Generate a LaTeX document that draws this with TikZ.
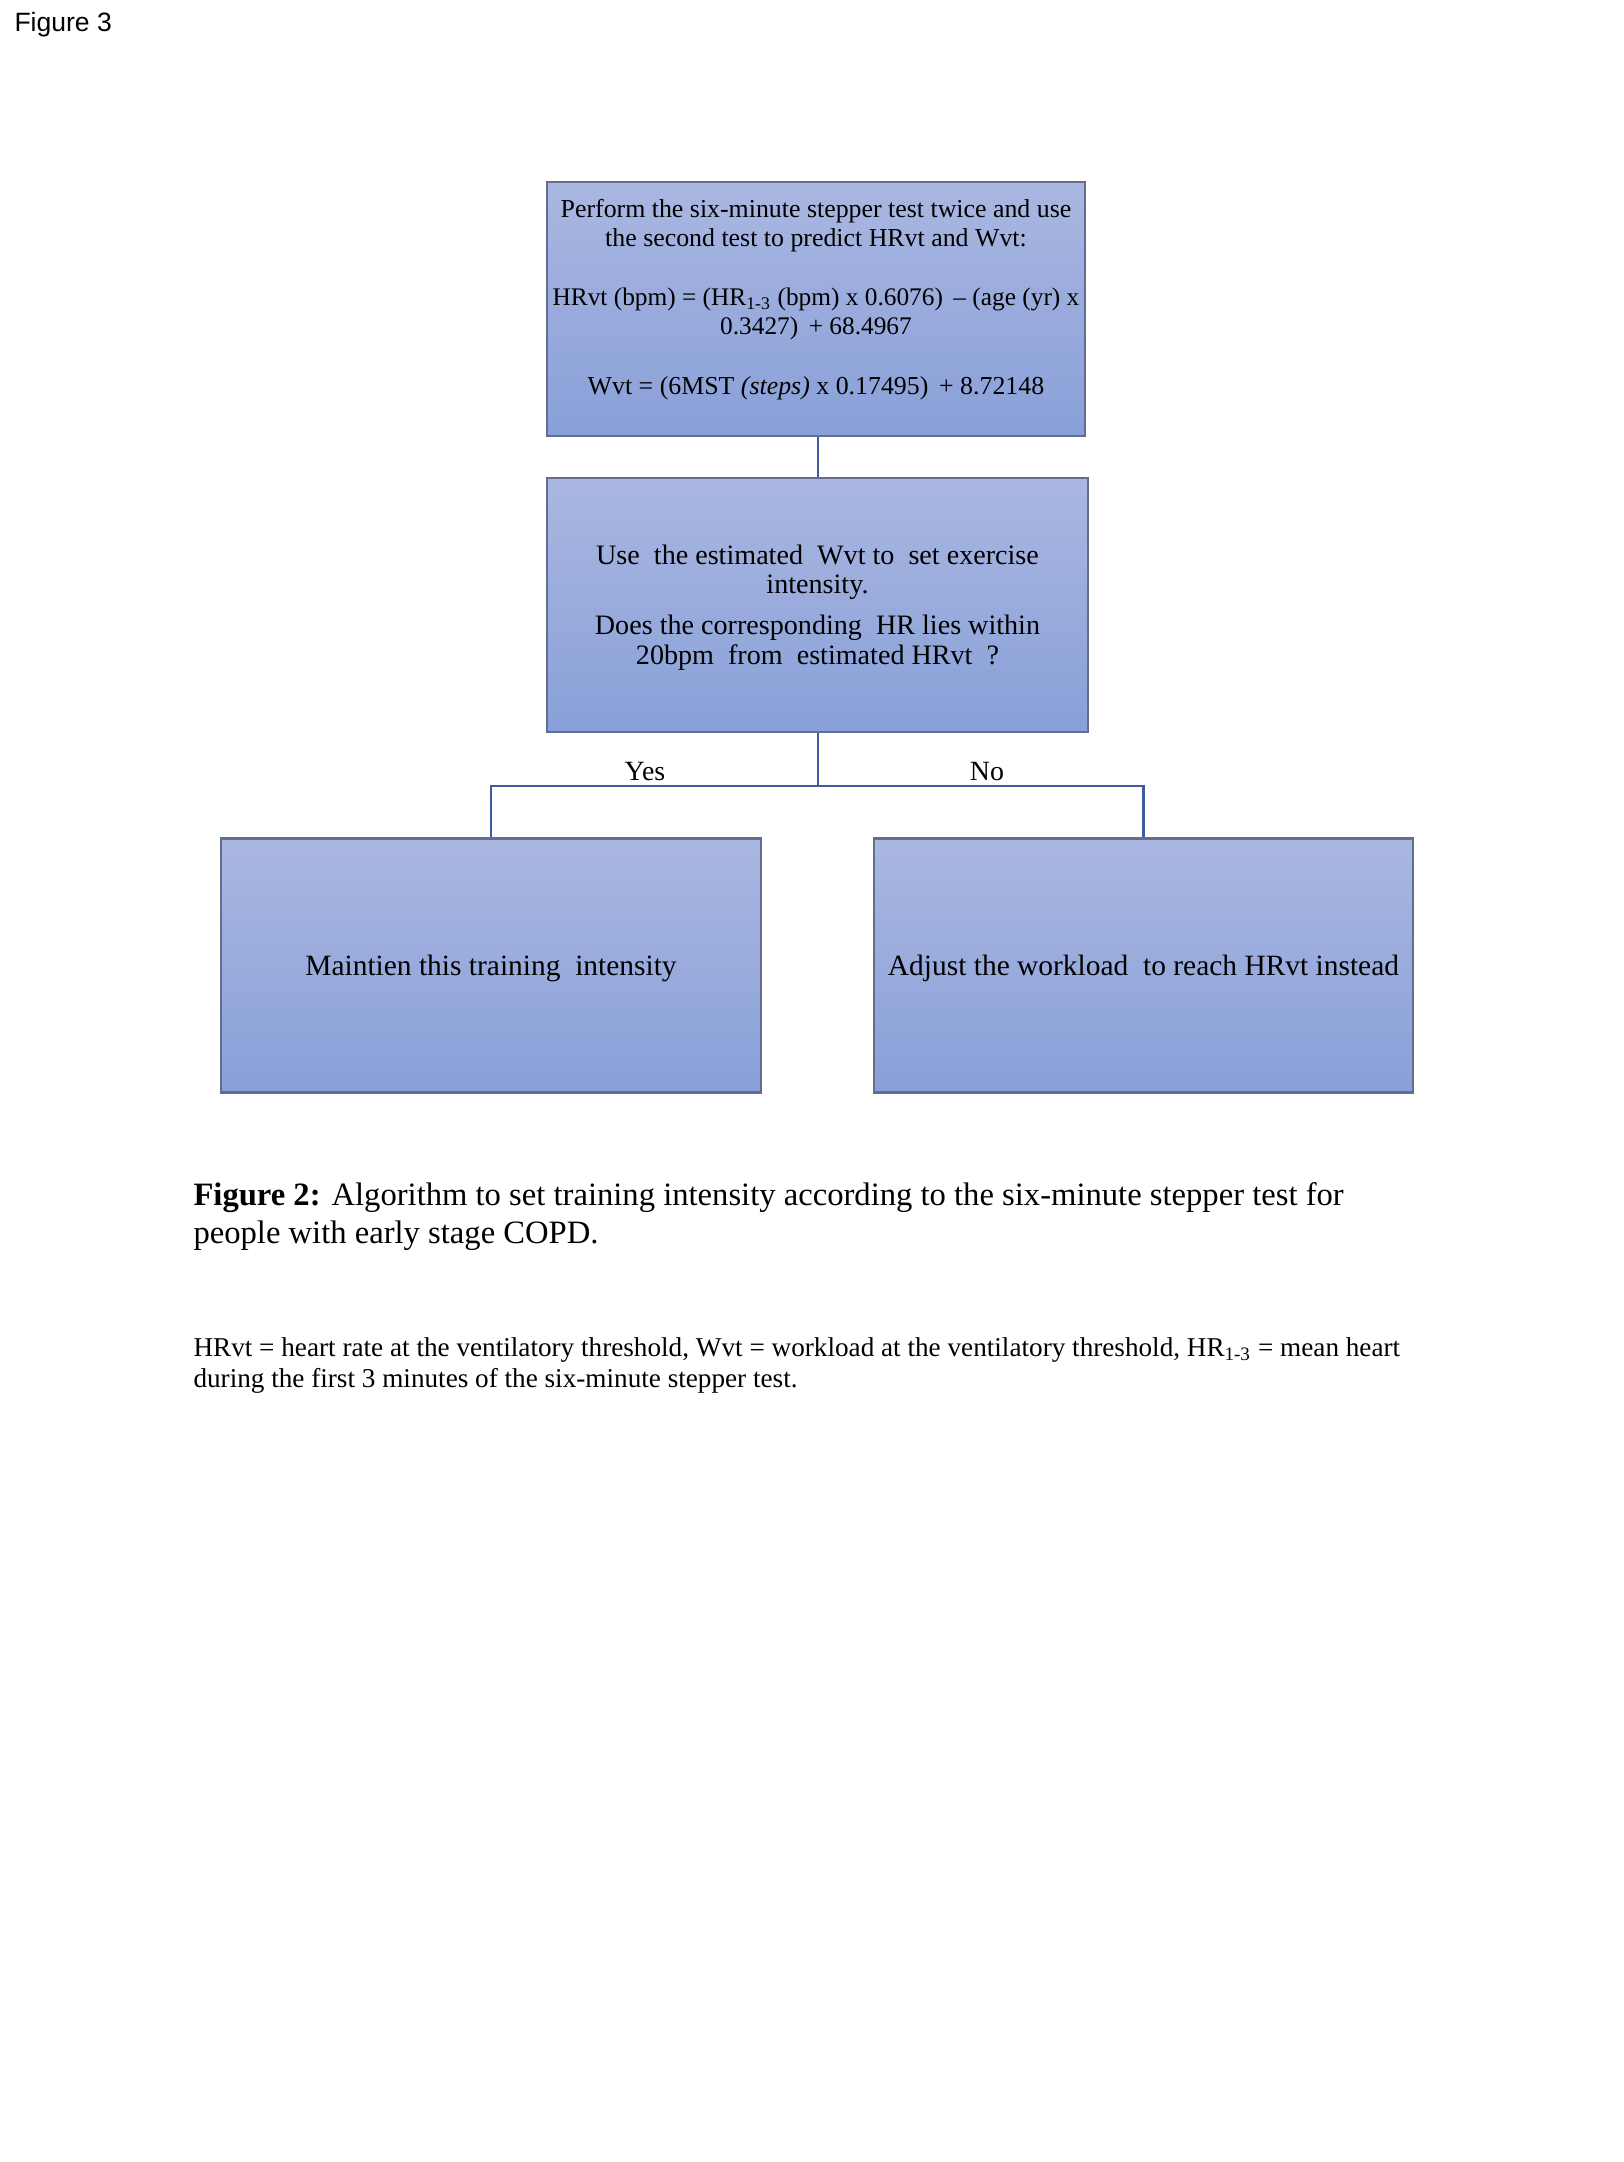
\documentclass[tikz,border=0pt]{standalone}
\usepackage{fontspec}
\setmainfont{Liberation Serif}
\newfontfamily\labelsans{Liberation Sans}
\newdimen\pxu \pxu=0.377pt
\definecolor{boxtop}{RGB}{170,183,225}
\definecolor{boxbot}{RGB}{136,160,216}
\definecolor{boxedge}{RGB}{100,110,140}
\definecolor{linkblue}{RGB}{62,92,160}
\tikzset{
  flowbox/.style={draw=boxedge, line width=0.8pt, top color=boxtop, bottom color=boxbot,
    minimum width=540\pxu, minimum height=254\pxu, inner sep=0pt},
  boxtext/.style={align=center, inner sep=0pt},
  link/.style={draw=linkblue, line width=0.9pt},
  branchlabel/.style={font=\fontsize{10.5}{12}\selectfont, inner sep=0pt}
}
\newcommand{\formulasize}{\fontsize{9.55}{11}\selectfont}
\begin{document}
\begin{tikzpicture}[x=0.377pt, y=-0.377pt]
\useasboundingbox (0,0) rectangle (1624,2162);
\fill[white] (0,0) rectangle (1624,2162);

\node[anchor=west, inner sep=0pt, font=\labelsans\fontsize{10}{12}\selectfont] (figtag) at (14,25) {Figure 3};

% boxes
\node[flowbox, minimum width=538\pxu] (predict) at (816,309) {};
\node[flowbox, minimum width=541\pxu] (check) at (817.5,605) {};
\node[flowbox] (keep) at (491,965.5) {};
\node[flowbox, minimum width=539\pxu] (adjust) at (1143.5,965.5) {};

% box texts
\node[boxtext, anchor=north, font=\fontsize{9.75}{11}\selectfont] (predicttxt) at (816,199) {%
  Perform the six-minute stepper test twice and use\\
  the second test to predict HRvt and Wvt:\\[11pt]
  {\formulasize HRvt (bpm) = (HR\textsubscript{1-3} (bpm) x 0.6076)\, -- (age (yr) x}\\
  {\formulasize 0.3427)\, + 68.4967}\\[11.5pt]
  Wvt = (6MST \textit{(steps)} x 0.17495)\, + 8.72148};

\node[boxtext, font=\fontsize{10.6}{11}\selectfont] (checktxt) at ([yshift=-1pt]check.center) {%
  Use\ \ the\ estimated\ \ Wvt\ to\ \ set\ exercise\\
  intensity.\\[4.5pt]
  Does\ the\ corresponding\ \ HR\ lies\ within\\
  20bpm\ \ from\ \ estimated\ HRvt\ \ ?};

\node[boxtext, font=\fontsize{11.1}{12}\selectfont] (keeptxt) at ([yshift=-1pt]keep.center) {Maintien\ this\ training\ \ intensity};
\node[boxtext, font=\fontsize{11.1}{12}\selectfont] (adjusttxt) at ([yshift=-1pt]adjust.center) {Adjust\ the\ workload\ \ to\ reach\ HRvt\ instead};

% connectors
\coordinate (split) at (818,786);
\draw[link] (predict.south -| split) -- (check.north -| split);
\draw[link] (check.south -| split) -- (split);
\draw[link] (split) -| (keep.north);
\draw[link] (split) -| (adjust.north);

\node[branchlabel] (yes) at (645,772) {Yes};
\node[branchlabel] (no) at (987,772) {No};

% caption
\node[anchor=north west, align=left, inner sep=0pt, font=\fontsize{12.3}{14.2}\selectfont] (caption) at (193,1182) {%
  \textbf{Figure 2:} Algorithm to set training intensity according to the six-minute stepper test for\\
  people with early stage COPD.};

\node[anchor=north west, align=left, inner sep=0pt, font=\fontsize{10.25}{11.9}\selectfont] (notes) at (193,1337) {%
  HRvt = heart rate at the ventilatory threshold, Wvt = workload at the ventilatory threshold, HR\textsubscript{1-3} = mean heart\\
  during the first 3 minutes of the six-minute stepper test.};
\end{tikzpicture}
\end{document}
